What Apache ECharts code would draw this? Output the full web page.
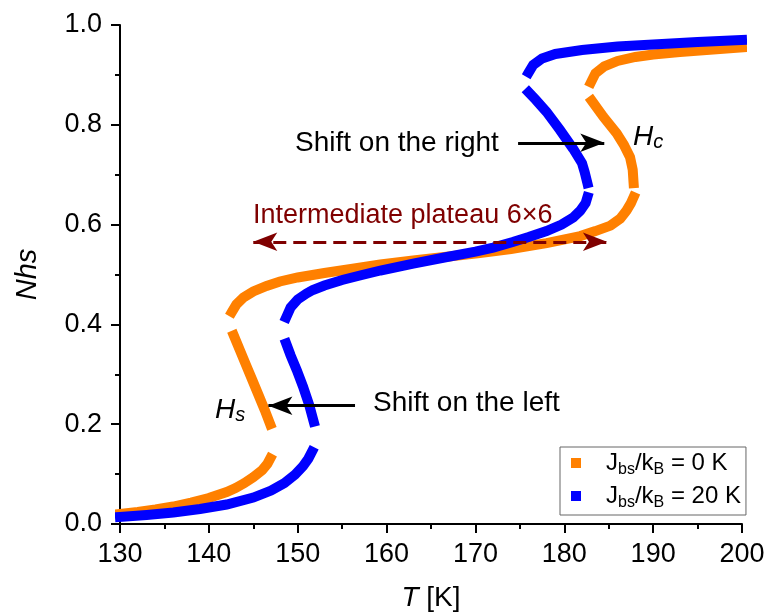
<!DOCTYPE html>
<html><head><meta charset="utf-8">
<script src="https://cdn.jsdelivr.net/npm/echarts@6/dist/echarts.min.js"></script>
<style>html,body{margin:0;padding:0;background:#fff}#c{width:767px;height:616px}</style>
</head><body><div id="c"></div>
<script>
// ---- data (T [K], Nhs) ----
const seriesNames = ['J0', 'J20'];
const xTicks = [130, 140, 150, 160, 170, 180, 190, 200];
const yTicks = [0.0, 0.2, 0.4, 0.6, 0.8, 1.0];

const orangeLower = [[130,0.020],[132,0.024],[134,0.029],[136,0.035],[138,0.043],[140,0.052],[142,0.064],[143,0.072],[144,0.082],[145,0.094],[146,0.108],[146.6,0.121],[146.9,0.131]];
const orangeMid1 = [[146.9,0.200],[146.3,0.228],[145.6,0.258],[144.9,0.288],[144.2,0.318],[143.5,0.348],[142.8,0.378]];
const orangePlateau = [[142.6,0.425],[143.1,0.440],[143.9,0.454],[145,0.466],[146.5,0.477],[148,0.486],[150,0.494],[153,0.503],[156,0.511],[159.3,0.520],[163,0.528],[167,0.536],[170.5,0.543],[174,0.551],[178,0.563],[181.8,0.577],[183.5,0.587],[185.2,0.598],[186.3,0.612],[187.0,0.628],[187.5,0.643],[187.8,0.655]];
const orangeMid2 = [[187.8,0.683],[187.7,0.710],[187.4,0.735],[186.7,0.760],[185.9,0.783],[184.4,0.816],[183.1,0.848]];
const orangeUpper = [[183.0,0.885],[183.5,0.903],[184.5,0.917],[186,0.928],[188,0.936],[190,0.941],[193,0.946],[196,0.950],[200,0.955]];

const blueLower = [[130,0.014],[133,0.018],[136,0.023],[139,0.030],[142,0.039],[145,0.053],[147,0.067],[148.5,0.082],[149.7,0.099],[150.6,0.116],[151.2,0.131],[151.6,0.145]];
const blueMid1 = [[151.8,0.205],[151.3,0.238],[150.6,0.275],[149.9,0.308],[149.2,0.338],[148.7,0.362]];
const bluePlateau = [[148.7,0.414],[149.2,0.434],[150,0.450],[151,0.462],[151.7,0.469],[153,0.478],[155,0.489],[157,0.498],[159.3,0.508],[163,0.522],[166.8,0.535],[170,0.546],[172,0.554],[174.2,0.565],[176,0.575],[178,0.587],[179.7,0.600],[181,0.614],[181.8,0.628],[182.4,0.643],[182.6,0.655]];
const blueMid2 = [[182.6,0.683],[182.3,0.705],[182.0,0.723],[181.0,0.752],[179.5,0.790],[178.0,0.826],[176.8,0.850],[176.0,0.865]];
const blueUpper = [[176.0,0.905],[176.5,0.920],[177.5,0.933],[179,0.942],[182,0.950],[186,0.957],[190,0.961],[195,0.966],[200,0.970]];

// annotation arrows (data coordinates, tip last)
const arrowRight = [[174.8,0.764],[184.5,0.764]];
const arrowLeft = [[156.45,0.237],[146.7,0.237]];
const plateauArrow = [[145.0,0.5656],[184.8,0.5656]];

const ORANGE = '#FF8000', BLUE = '#0000FF', DARKRED = '#7F0000';
const FONT = 'Liberation Sans, Arial, sans-serif';

function seg(name, data, color) {
  return { name, type: 'line', data, showSymbol: false, symbol: 'none', smooth: false,
    lineStyle: { color, width: 10, cap: 'square', join: 'miter' }, itemStyle: { color },
    silent: true, animation: false, z: name === 'J20' ? 3 : 2 };
}

const chart = echarts.init(document.getElementById('c'), null, { renderer: 'canvas' });
const axisCommon = {
  axisLine: { show: true, lineStyle: { color: '#000', width: 2 } },
  axisTick: { show: true, inside: false, length: 9, lineStyle: { color: '#000', width: 2 } },
  minorTick: { show: true, splitNumber: 2, length: 5, lineStyle: { color: '#000', width: 2 } },
  splitLine: { show: false },
};
const sub = { a: { fontSize: 24, fontFamily: FONT, color: '#000', lineHeight: 30, verticalAlign: 'middle' },
              b: { fontSize: 16, fontFamily: FONT, color: '#000', lineHeight: 16, verticalAlign: 'bottom' } };
const hRich = { h: { fontSize: 28, fontStyle: 'italic', fontFamily: FONT, fill: '#000', lineHeight: 30, verticalAlign: 'middle' },
                s: { fontSize: 20, fontStyle: 'italic', fontFamily: FONT, fill: '#000', lineHeight: 16, verticalAlign: 'bottom' } };

chart.setOption({
  animation: false,
  backgroundColor: '#fff',
  grid: { left: 120, right: 25, top: 25, bottom: 92, containLabel: false, outerBoundsMode: 'none' },
  xAxis: Object.assign({
    type: 'value', min: xTicks[0], max: xTicks[xTicks.length - 1], interval: 10,
    axisLabel: { fontSize: 27, fontFamily: FONT, color: '#000', margin: 17 },
    name: '{i|T} [K]', nameLocation: 'middle', nameGap: 60,
    nameTextStyle: { fontSize: 28, fontFamily: FONT, color: '#000',
      rich: { i: { fontSize: 28, fontStyle: 'italic', fontFamily: FONT, color: '#000' } } },
  }, axisCommon),
  yAxis: Object.assign({
    type: 'value', min: yTicks[0], max: yTicks[yTicks.length - 1], interval: 0.2,
    axisLabel: { fontSize: 27, fontFamily: FONT, color: '#000', margin: 18, formatter: v => v.toFixed(1) },
    name: 'Nhs', nameLocation: 'middle', nameGap: 78,
    nameTextStyle: { fontSize: 29, fontFamily: FONT, color: '#000', fontStyle: 'italic' },
  }, axisCommon),
  legend: {
    left: 560, top: 447, orient: 'vertical',
    data: [{ name: 'J0', icon: 'rect' }, { name: 'J20', icon: 'rect' }],
    itemWidth: 10, itemHeight: 10, itemGap: 6,
    padding: [4, 5, 4, 11],
    borderColor: '#666', borderWidth: 1, borderRadius: 0, backgroundColor: '#fff',
    selectedMode: false,
    formatter: n => n === 'J0' ? '{a|J}{b|bs}{a|/k}{b|B}{a| = 0 K}' : '{a|J}{b|bs}{a|/k}{b|B}{a| = 20 K}',
    textStyle: { padding: [0, 0, 0, 20], rich: sub },
  },
  series: [
    seg('J0', orangeLower, ORANGE), seg('J0', orangeMid1, ORANGE), seg('J0', orangePlateau, ORANGE),
    seg('J0', orangeMid2, ORANGE), seg('J0', orangeUpper, ORANGE),
    seg('J20', blueLower, BLUE), seg('J20', blueMid1, BLUE), seg('J20', bluePlateau, BLUE),
    seg('J20', blueMid2, BLUE), seg('J20', blueUpper, BLUE),
    { type: 'line', data: [], silent: true, z: 5,
      markLine: { silent: true, animation: false, label: { show: false }, emphasis: { disabled: true },
        data: [
          [{ coord: arrowRight[0], symbol: 'none', lineStyle: { color: '#000', width: 3, type: 'solid' } },
           { coord: arrowRight[1], symbol: 'arrow', symbolSize: [14, 24] }],
          [{ coord: arrowLeft[0], symbol: 'none', lineStyle: { color: '#000', width: 3, type: 'solid' } },
           { coord: arrowLeft[1], symbol: 'arrow', symbolSize: [14, 24] }],
          [{ coord: plateauArrow[0], symbol: 'arrow', symbolSize: [14, 24], lineStyle: { color: DARKRED, width: 3, type: [13, 7] } },
           { coord: plateauArrow[1], symbol: 'arrow', symbolSize: [14, 24] }],
        ] } }
  ],
  graphic: [
    { type: 'text', x: 295, y: 143, style: { text: 'Shift on the right', font: '28px ' + FONT, fill: '#000', verticalAlign: 'middle', align: 'left' } },
    { type: 'text', x: 253, y: 216, style: { text: 'Intermediate plateau 6×6', font: '27px ' + FONT, fill: DARKRED, verticalAlign: 'middle', align: 'left' } },
    { type: 'text', x: 373, y: 403, style: { text: 'Shift on the left', font: '28px ' + FONT, fill: '#000', verticalAlign: 'middle', align: 'left' } },
    { type: 'text', x: 633, y: 137, style: { text: '{h|H}{s|c}', verticalAlign: 'middle', align: 'left', rich: hRich } },
    { type: 'text', x: 215, y: 410, style: { text: '{h|H}{s|s}', verticalAlign: 'middle', align: 'left', rich: hRich } },
  ]
});
</script></body></html>
